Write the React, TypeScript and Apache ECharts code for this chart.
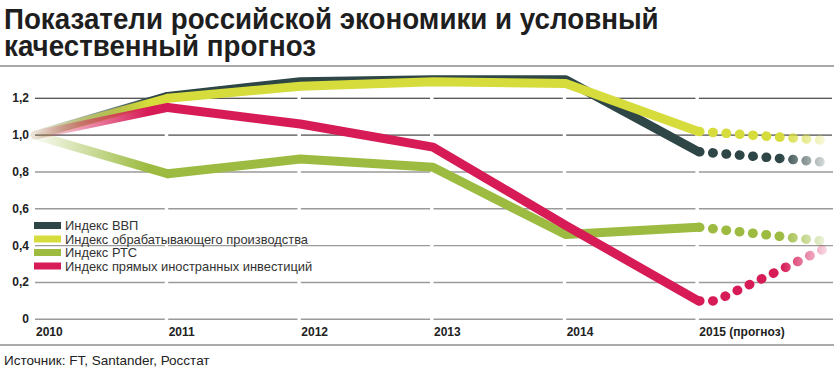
import React, { useEffect, useRef } from "react";
import * as echarts from "echarts";

const years = [2010, 2011, 2012, 2013, 2014, 2015];
const xTickLabels = ["2010", "2011", "2012", "2013", "2014", "2015 (прогноз)", ""];
const yTicks = [0, 0.2, 0.4, 0.6, 0.8, 1.0, 1.2];
const yTickLabels = ["0", "0,2", "0,4", "0,6", "0,8", "1,0", "1,2"];
const darkTicks = [1.0, 1.2];

const seriesNames = [
  "Индекс ВВП",
  "Индекс обрабатывающего производства",
  "Индекс РТС",
  "Индекс прямых иностранных инвестиций",
];
const colors = ["#2e4646", "#d6dc3c", "#9cbb40", "#d61b56"];
const colorsRgb = ["46,70,70", "214,220,60", "156,187,64", "214,27,86"];

const gdp = [1.0, 1.21, 1.29, 1.3, 1.3, 0.91];
const manuf = [1.0, 1.2, 1.265, 1.29, 1.28, 1.02];
const rts = [1.0, 0.79, 0.87, 0.825, 0.46, 0.5];
const fdi = [1.0, 1.15, 1.06, 0.935, 0.51, 0.1];

const forecastYears = [2015, 2016];
const gdpForecast = [0.91, 0.85];
const manufForecast = [1.02, 0.97];
const rtsForecast = [0.5, 0.42];
const fdiForecastYears = [2015, 2015.13, 2016];
const fdiForecast = [0.1, 0.1, 0.4];

const values = [gdp, manuf, rts, fdi];
const forecasts = [
  { x: forecastYears, y: gdpForecast },
  { x: forecastYears, y: manufForecast },
  { x: forecastYears, y: rtsForecast },
  { x: fdiForecastYears, y: fdiForecast },
];

const title1 = "Показатели российской экономики и условный";
const title2 = "качественный прогноз";
const source = "Источник: FT, Santander, Росстат";

const SANS = "'Liberation Sans', Arial, sans-serif";

export default function App() {
  const ref = useRef<HTMLDivElement>(null);
  useEffect(() => {
    if (!ref.current) return;
    const chart = echarts.init(ref.current, null, { renderer: "svg" });

    const gridSeries: any[] = yTicks.map((t) => {
      const data: any[] = [];
      years.forEach((yr, i) => {
        const start = i === 0 ? yr : yr + 0.004;
        const end = i < years.length - 1 ? years[i + 1] - 0.022 : 2016.1;
        data.push([start, t], [end, t], [end + 0.005, null]);
      });
      const dark = darkTicks.includes(t);
      return {
        type: "line",
        name: "grid" + t,
        data,
        z: 1,
        silent: true,
        symbol: "none",
        connectNulls: false,
        lineStyle: { color: dark ? "#1e1e1e" : "#9a9a9a", width: dark ? 1 : 1.4 },
        emphasis: { disabled: true },
      };
    });

    const dataSeries: any[] = [];
    values.forEach((vals, k) => {
      const c = colors[k];
      const rgb = colorsRgb[k];
      dataSeries.push({
        type: "line",
        name: "start" + k,
        data: [
          [years[0], vals[0]],
          [years[1], vals[1]],
        ],
        symbol: "none",
        silent: true,
        z: 2,
        lineStyle: {
          width: 9,
          cap: "round",
          join: "round",
          color: new echarts.graphic.LinearGradient(0, 0, 1, 0, [
            { offset: 0, color: `rgba(${rgb},0.06)` },
            { offset: 0.85, color: `rgba(${rgb},1)` },
            { offset: 1, color: `rgba(${rgb},1)` },
          ]),
        },
        emphasis: { disabled: true },
      });
      dataSeries.push({
        type: "line",
        name: seriesNames[k],
        data: years.slice(1).map((yr, i) => [yr, vals[i + 1]]),
        symbol: "none",
        silent: true,
        z: 2,
        itemStyle: { color: c },
        lineStyle: { width: 9, cap: "round", join: "round", color: c },
        emphasis: { disabled: true },
      });
      const f = forecasts[k];
      dataSeries.push({
        type: "line",
        name: "forecast" + k,
        data: f.x.map((x, i) => [x, f.y[i]]),
        symbol: "none",
        silent: true,
        z: 2,
        lineStyle: {
          width: 9.5,
          cap: "round",
          join: "round",
          type: [0.5, 12.9],
          dashOffset: -1.5,
          color: new echarts.graphic.LinearGradient(0, 0, 1, 0, [
            { offset: 0, color: `rgba(${rgb},1)` },
            { offset: 0.62, color: `rgba(${rgb},1)` },
            { offset: 1, color: `rgba(${rgb},0.08)` },
          ]),
        },
        emphasis: { disabled: true },
      });
    });

    chart.setOption({
      animation: false,
      grid: { left: 35, right: -5, top: 61.4, bottom: 52.7 },
      xAxis: {
        type: "value",
        min: 2010,
        max: 2016,
        interval: 1,
        splitLine: { show: false },
        axisLine: { show: false },
        axisTick: { show: false },
        axisLabel: {
          margin: 7,
          align: "left",
          padding: [0, 0, 0, 1],
          fontSize: 12,
          fontWeight: "bold",
          color: "#222",
          fontFamily: SANS,
          formatter: (v: number) => {
            const i = Math.round(v - 2010);
            return xTickLabels[i] ?? "";
          },
        },
      },
      yAxis: {
        type: "value",
        min: 0,
        max: 1.4,
        interval: 0.2,
        splitLine: { show: false },
        axisLine: { show: false },
        axisTick: { show: false },
        axisLabel: {
          margin: 6,
          showMaxLabel: false,
          fontSize: 12,
          fontWeight: "bold",
          color: "#222",
          fontFamily: SANS,
          padding: [0, 0, 3, 0],
          formatter: (v: number) => {
            const i = yTicks.findIndex((t) => Math.abs(t - v) < 1e-6);
            return i >= 0 ? yTickLabels[i] : "";
          },
        },
      },
      legend: {
        data: seriesNames,
        orient: "vertical",
        left: 34,
        top: 219,
        padding: 0,
        icon: "rect",
        itemWidth: 27,
        itemHeight: 7,
        itemGap: 0.5,
        selectedMode: false,
        textStyle: {
          fontSize: 12.9,
          lineHeight: 12.8,
          color: "#333",
          fontFamily: SANS,
          padding: [0, 0, 0, -1],
        },
      },
      graphic: [
        {
          type: "text",
          x: 4,
          y: 4,
          scaleX: 0.925,
          style: { text: title1, font: `bold 30px ${SANS}`, fill: "#1e1e1e", verticalAlign: "top" },
        },
        {
          type: "text",
          x: 4,
          y: 31,
          scaleX: 0.925,
          style: { text: title2, font: `bold 30px ${SANS}`, fill: "#1e1e1e", verticalAlign: "top" },
        },
        {
          type: "line",
          shape: { x1: 0, y1: 66, x2: 834, y2: 66 },
          style: { stroke: "#8c8c8c", lineWidth: 1.5 },
        },
        {
          type: "line",
          shape: { x1: 0, y1: 345, x2: 834, y2: 345 },
          style: { stroke: "#ababab", lineWidth: 2 },
        },
        {
          type: "text",
          x: 4,
          y: 353,
          style: { text: source, font: `13.5px ${SANS}`, fill: "#222", verticalAlign: "top" },
        },
      ],
      series: [...gridSeries, ...dataSeries],
    });
    return () => chart.dispose();
  }, []);
  return (
    <div
      ref={ref}
      style={{ position: "fixed", left: 0, top: 0, width: 834, height: 372, background: "#fff" }}
    />
  );
}
